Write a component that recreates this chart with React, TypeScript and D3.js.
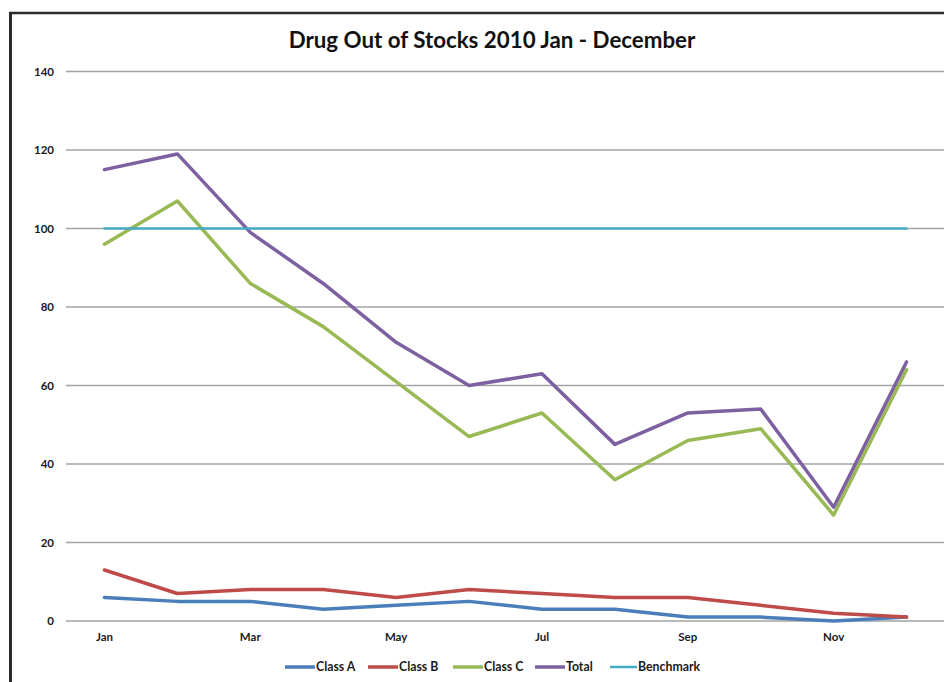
import React from "react";
import * as d3 from "d3";

const months = ["Jan", "Feb", "Mar", "Apr", "May", "Jun", "Jul", "Aug", "Sep", "Oct", "Nov", "Dec"];
const labeledMonths = ["Jan", "Mar", "May", "Jul", "Sep", "Nov"];
const yTicks = [0, 20, 40, 60, 80, 100, 120, 140];

const classA = [6, 5, 5, 3, 4, 5, 3, 3, 1, 1, 0, 1];
const classB = [13, 7, 8, 8, 6, 8, 7, 6, 6, 4, 2, 1];
const classC = [96, 107, 86, 75, 61, 47, 53, 36, 46, 49, 27, 64];
const total = [115, 119, 99, 86, 71, 60, 63, 45, 53, 54, 29, 66];
const benchmark = [100, 100, 100, 100, 100, 100, 100, 100, 100, 100, 100, 100];

const seriesNames = ["Class A", "Class B", "Class C", "Total", "Benchmark"];
const seriesValues = [classA, classB, classC, total, benchmark];
const seriesColors = ["#4a7ebb", "#be4b48", "#98b954", "#7d60a0", "#46aac5"];
const seriesWidths = [3.5, 3.5, 3.5, 3.5, 2.5];

const W = 944;
const H = 682;
const FONT = "Lato, 'Open Sans', sans-serif";

export default function App() {
  const x = d3.scaleBand<string>().domain(months).range([68, 943]).padding(0);
  const cx = (m: string) => (x(m) ?? 0) + x.bandwidth() / 2;
  const y = d3.scaleLinear().domain([0, 140]).range([621, 71.5]);

  const line = d3
    .line<number>()
    .x((_, i) => cx(months[i]))
    .y((v) => y(v));

  // legend layout: line sample + label
  const legendItems = [
    { x1: 285, tx: 316 },
    { x1: 368, tx: 399 },
    { x1: 453, tx: 484 },
    { x1: 535, tx: 566 },
    { x1: 610, tx: 638 },
  ];

  return (
    <svg
      width={W}
      height={H}
      style={{ position: "absolute", left: 0, top: 0, background: "#fff" }}
      fontFamily={FONT}
    >
      <rect x={0} y={0} width={W} height={H} fill="#fff" />
      {/* chart frame */}
      <line x1={10.5} y1={12} x2={10.5} y2={H} stroke="#2b2b2b" strokeWidth={3} />
      <line x1={9} y1={13} x2={W} y2={13} stroke="#2b2b2b" strokeWidth={2.5} />

      <text
        x={492}
        y={48}
        textAnchor="middle"
        fontSize={22.3}
        fontWeight={700}
        fill="#111"
      >
        Drug Out of Stocks 2010 Jan - December
      </text>

      {/* gridlines and y labels */}
      {yTicks.map((t) => (
        <g key={t}>
          <line x1={66} x2={W} y1={y(t)} y2={y(t)} stroke="#a3a3a3" strokeWidth={1.5} />
          <text
            x={54}
            y={y(t)}
            dy="0.35em"
            textAnchor="end"
            fontSize={11.5}
            fontWeight={700}
            fill="#1a1a1a"
          >
            {t}
          </text>
        </g>
      ))}

      {/* month labels */}
      {labeledMonths.map((m) => (
        <text
          key={m}
          x={cx(m)}
          y={641}
          textAnchor="middle"
          fontSize={11.5}
          fontWeight={700}
          fill="#1a1a1a"
        >
          {m}
        </text>
      ))}

      {/* series */}
      {seriesValues.map((vals, i) => (
        <path
          key={seriesNames[i]}
          d={line(vals) ?? ""}
          fill="none"
          stroke={seriesColors[i]}
          strokeWidth={seriesWidths[i]}
          strokeLinejoin="round"
          strokeLinecap="round"
        />
      ))}

      {/* legend */}
      {legendItems.map((it, i) => (
        <g key={seriesNames[i]}>
          <line
            x1={it.x1}
            x2={it.tx - 1}
            y1={667}
            y2={667}
            stroke={seriesColors[i]}
            strokeWidth={seriesWidths[i]}
          />
          <text
            x={it.tx}
            y={667}
            dy="0.35em"
            fontSize={12.3}
            fontWeight={700}
            fill="#1a1a1a"
          >
            {seriesNames[i]}
          </text>
        </g>
      ))}
    </svg>
  );
}
